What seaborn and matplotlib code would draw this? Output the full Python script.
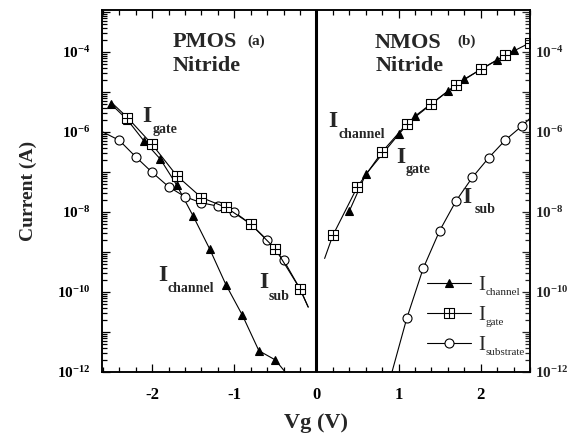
import numpy as np
import pandas as pd
import matplotlib
matplotlib.use("Agg")
import matplotlib.pyplot as plt
import seaborn as sns
from matplotlib.path import Path
from matplotlib.ticker import FixedLocator, FuncFormatter, MultipleLocator, NullFormatter

# ---------------- data ----------------
pmos_channel_vg = [-2.5, -2.3, -2.1, -1.9, -1.7, -1.5, -1.3, -1.1, -0.9, -0.7, -0.5, -0.38]
pmos_channel_i = [5.0e-6, 2.0e-6, 6.0e-7, 2.1e-7, 4.7e-8, 7.9e-9, 1.2e-9, 1.5e-10, 2.6e-11, 3.4e-12, 2.0e-12, 1.0e-12]
pmos_channel_mark = [1, 1, 1, 1, 1, 1, 1, 1, 1, 1, 1, 0]

pmos_gate_vg = [-2.5, -2.3, -2.0, -1.7, -1.4, -1.1, -0.8, -0.5, -0.2, -0.1]
pmos_gate_i = [5.6e-6, 2.3e-6, 4.9e-7, 8.1e-8, 2.3e-8, 1.3e-8, 5.0e-9, 1.2e-9, 1.2e-10, 4.2e-11]
pmos_gate_mark = [0, 1, 1, 1, 1, 1, 1, 1, 1, 0]

pmos_sub_vg = [-2.6, -2.4, -2.2, -2.0, -1.8, -1.6, -1.4, -1.2, -1.0, -0.8, -0.6, -0.4, -0.2, -0.1]
pmos_sub_i = [1.0e-6, 6.2e-7, 2.4e-7, 9.8e-8, 4.3e-8, 2.4e-8, 1.7e-8, 1.4e-8, 1.0e-8, 5.0e-9, 2.0e-9, 6.3e-10, 1.2e-10, 4.2e-11]
pmos_sub_mark = [0, 1, 1, 1, 1, 1, 1, 1, 1, 1, 1, 1, 1, 0]

nmos_channel_vg = [0.4, 0.6, 1.0, 1.2, 1.6, 1.8, 2.2, 2.4]
nmos_channel_i = [1.05e-8, 8.7e-8, 8.7e-7, 2.5e-6, 1.05e-5, 2.1e-5, 6.3e-5, 1.1e-4]
nmos_channel_mark = [1, 1, 1, 1, 1, 1, 1, 1]

nmos_gate_vg = [0.1, 0.2, 0.5, 0.8, 1.1, 1.4, 1.7, 2.0, 2.3, 2.6]
nmos_gate_i = [6.9e-10, 2.6e-9, 4.3e-8, 3.2e-7, 1.6e-6, 5.0e-6, 1.5e-5, 3.7e-5, 8.3e-5, 1.7e-4]
nmos_gate_mark = [0, 1, 1, 1, 1, 1, 1, 1, 1, 1]

nmos_sub_vg = [0.92, 1.1, 1.3, 1.5, 1.7, 1.9, 2.1, 2.3, 2.5, 2.6]
nmos_sub_i = [1.0e-12, 2.2e-11, 3.9e-10, 3.4e-9, 1.9e-8, 7.4e-8, 2.3e-7, 6.3e-7, 1.4e-6, 2.2e-6]
nmos_sub_mark = [0, 1, 1, 1, 1, 1, 1, 1, 1, 0]

legend_subscripts = ["channel", "gate", "substrate"]
y_tick_exponents = list(range(-12, -2))
x_tick_values = [-2, -1, 0, 1, 2]

# ---------------- style ----------------
sns.set_style("ticks")
plt.rcParams["font.family"] = ["Liberation Serif", "DejaVu Serif"]
plt.rcParams["font.weight"] = "bold"
plt.rcParams["mathtext.fontset"] = "custom"
plt.rcParams["mathtext.rm"] = "Liberation Serif"
plt.rcParams["mathtext.bf"] = "Liberation Serif:bold"
plt.rcParams["mathtext.it"] = "Liberation Serif:italic"
plt.rcParams["mathtext.default"] = "bf"
plt.rcParams["axes.unicode_minus"] = False

# square-with-cross marker
sq_verts = [(-1, -1), (1, -1), (1, 1), (-1, 1), (-1, -1),
            (0, -1), (0, 1), (-1, 0), (1, 0)]
sq_codes = [Path.MOVETO, Path.LINETO, Path.LINETO, Path.LINETO, Path.CLOSEPOLY,
            Path.MOVETO, Path.LINETO, Path.MOVETO, Path.LINETO]
square_cross = Path(sq_verts, sq_codes)

fig = plt.figure(figsize=(5.81, 4.36), dpi=100)
ax = fig.add_axes([102 / 581, 1 - 372 / 436, 428 / 581, 362 / 436])
ax.set_yscale("log")


def draw(vg, cur, mark, marker, face, ms, label=None):
    idx = [i for i, m in enumerate(mark) if m]
    df = pd.DataFrame({"Vg": vg, "I": cur})
    sns.lineplot(data=df, x="Vg", y="I", ax=ax, sort=False, estimator=None,
                 color="black", linewidth=0.8, marker=marker, markersize=ms,
                 markerfacecolor=face, markeredgecolor="black",
                 markeredgewidth=0.8, markevery=idx, label=label)


draw(pmos_channel_vg, pmos_channel_i, pmos_channel_mark, "^", "black", 6.3)
draw(pmos_sub_vg, pmos_sub_i, pmos_sub_mark, "o", "white", 6.5)
draw(pmos_gate_vg, pmos_gate_i, pmos_gate_mark, square_cross, "white", 7)
draw(nmos_channel_vg, nmos_channel_i, nmos_channel_mark, "^", "black", 6.3, "channel")
draw(nmos_sub_vg, nmos_sub_i, nmos_sub_mark, "o", "white", 6.5, "substrate")
draw(nmos_gate_vg, nmos_gate_i, nmos_gate_mark, square_cross, "white", 7, "gate")

ax.axvline(0, color="black", linewidth=2.2, zorder=5)

ax.set_xlim(-2.61, 2.60)
ax.set_ylim(1e-12, 10 ** -2.95)

# ticks
maj_y = [10.0 ** e for e in y_tick_exponents]
min_y = [m * 10.0 ** e for e in y_tick_exponents[:-1] for m in range(2, 10)]


def yfmt(v, pos):
    e = int(round(np.log10(v)))
    return r"$10^{%d}$" % e if e % 2 == 0 else ""


ax.yaxis.set_major_locator(FixedLocator(maj_y))
ax.yaxis.set_minor_locator(FixedLocator(min_y))
ax.yaxis.set_major_formatter(FuncFormatter(yfmt))
ax.yaxis.set_minor_formatter(NullFormatter())
ax.xaxis.set_major_locator(FixedLocator(x_tick_values))
ax.xaxis.set_minor_locator(MultipleLocator(0.2))
ax.xaxis.set_major_formatter(FuncFormatter(lambda v, p: "%d" % int(round(v))))

ax.tick_params(axis="both", which="both", direction="in", top=True, right=False,
               width=0.9, colors="black")
ax.tick_params(axis="both", which="major", length=6)
ax.tick_params(axis="both", which="minor", length=3.5)
ax.tick_params(axis="y", which="major", labelsize=11, pad=8.5)
ax.tick_params(axis="x", which="major", labelsize=12, pad=11)

ax2 = ax.twinx()
ax2.set_yscale("log")
ax2.set_ylim(ax.get_ylim())
ax2.yaxis.set_major_locator(FixedLocator(maj_y))
ax2.yaxis.set_minor_locator(FixedLocator(min_y))
ax2.yaxis.set_major_formatter(FuncFormatter(yfmt))
ax2.yaxis.set_minor_formatter(NullFormatter())
ax2.tick_params(axis="y", which="both", direction="in", width=0.9)
ax2.tick_params(axis="y", which="major", length=6, labelsize=11, pad=3.5)
ax2.tick_params(axis="y", which="minor", length=3.5)

for a in (ax, ax2):
    for s in a.spines.values():
        s.set_linewidth(1.1)
        s.set_color("black")
        s.set_visible(True)

ax.set_xlabel("Vg (V)", fontsize=16, fontweight="bold", labelpad=7)
ax.set_ylabel("Current (A)", fontsize=14, fontweight="bold", labelpad=14)

# titles
ax.text(-1.745, 10 ** -3.875, "PMOS", fontsize=16, fontweight="bold", ha="left", va="baseline")
ax.text(-1.745, 10 ** -4.475, "Nitride", fontsize=16, fontweight="bold", ha="left", va="baseline")
ax.text(-0.845, 10 ** -3.83, "(a)", fontsize=11, fontweight="bold", ha="left", va="baseline")
ax.text(0.71, 10 ** -3.9, "NMOS", fontsize=16, fontweight="bold", ha="left", va="baseline")
ax.text(0.72, 10 ** -4.475, "Nitride", fontsize=16, fontweight="bold", ha="left", va="baseline")
ax.text(1.72, 10 ** -3.83, "(b)", fontsize=11, fontweight="bold", ha="left", va="baseline")


def curve_label(xi, yi, xs, ys, sub):
    ax.text(xi, 10 ** yi, "I", fontsize=17, fontweight="bold", ha="left", va="baseline")
    ax.text(xs, 10 ** ys, sub, fontsize=10, fontweight="bold", ha="left", va="baseline")


curve_label(-2.12, -5.75, -1.99, -6.02, "gate")
curve_label(-1.93, -9.73, -1.81, -10.0, "channel")
curve_label(-0.69, -9.9, -0.58, -10.2, "sub")
curve_label(0.15, -5.875, 0.27, -6.15, "channel")
curve_label(0.97, -6.775, 1.085, -7.03, "gate")
curve_label(1.78, -7.775, 1.93, -8.025, "sub")

# legend: big "I" labels, subscripts placed right after each one
h, l = ax.get_legend_handles_labels()
order = [l.index(s) for s in legend_subscripts]
leg = ax.legend([h[i] for i in order], ["I"] * 3, loc="upper left",
                bbox_to_anchor=(0.759, 0.266), frameon=False, fontsize=15,
                handlelength=2.1, handletextpad=0.35, labelspacing=0.5,
                borderpad=0, borderaxespad=0, numpoints=1)
for t in leg.get_texts():
    t.set_fontweight("normal")

fig.canvas.draw()
renderer = fig.canvas.get_renderer()
inv = ax.transAxes.inverted()
for t, sub in zip(leg.get_texts(), legend_subscripts):
    bb = t.get_window_extent(renderer)
    xa, ya = inv.transform((bb.x1 + 0.5, bb.y0 + 0.5))
    ax.text(xa, ya, sub, transform=ax.transAxes, fontsize=8, fontweight="normal",
            ha="left", va="baseline")

fig.savefig("out.png", dpi=100)
